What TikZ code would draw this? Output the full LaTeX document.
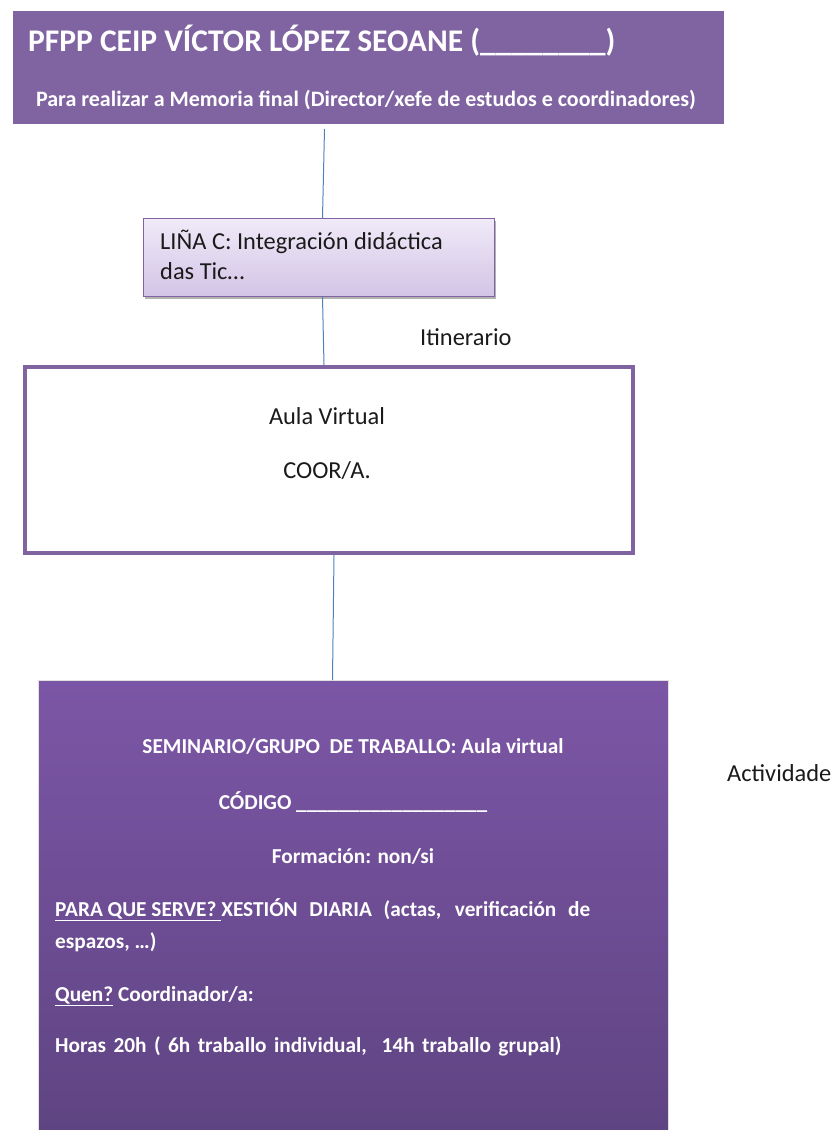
\documentclass[tikz,border=0pt]{standalone}
\usepackage{fontspec}
\setmainfont{Carlito}
\usetikzlibrary{shadows,calc}
\definecolor{purp}{HTML}{8064A2}
\definecolor{linblue}{HTML}{4F81BD}
\definecolor{lavtop}{HTML}{F0EAF8}
\definecolor{lavbot}{HTML}{D2C4E6}
\definecolor{bottop}{HTML}{7C56A6}
\definecolor{botbot}{HTML}{5D4380}
\definecolor{txt}{HTML}{1A1A1A}
\tikzset{
  conn/.style={draw=linblue, line width=1pt},
  topbox/.style={draw=white, line width=5pt, fill=purp, inner sep=0pt, anchor=north west,
    drop shadow={shadow xshift=1.5pt, shadow yshift=-2pt, fill=black, opacity=0.25}},
  linabox/.style={draw=purp, line width=1pt, top color=lavtop, bottom color=lavbot, inner sep=0pt, anchor=north west,
    drop shadow={shadow xshift=1.5pt, shadow yshift=-2pt, fill=black, opacity=0.3}},
  aulabox/.style={draw=purp, line width=4pt, fill=white, inner sep=0pt, anchor=north west,
    drop shadow={shadow xshift=1pt, shadow yshift=-1.5pt, fill=black, opacity=0.2}},
  botbox/.style={draw=black!12, line width=1pt, top color=bottop, bottom color=botbot, inner sep=0pt, anchor=north west},
  wt/.style={text=white, inner sep=0pt, font=\fontsize{21.3}{25}\selectfont\bfseries},
  dk/.style={text=txt, inner sep=0pt, font=\fontsize{24.4}{29}\selectfont},
}
\begin{document}
\begin{tikzpicture}[x=1pt,y=-1pt]
\useasboundingbox (0,0) rectangle (836,1130);
\clip (0,0) rectangle (836,1130);
% top box
\node[topbox, minimum width=716, minimum height=118] (top) at (8,6) {};
\node[wt, anchor=base west, font=\fontsize{31.5}{36}\selectfont\bfseries] (title) at (28,51) {PFPP CEIP VÍCTOR LÓPEZ SEOANE (\_\_\_\_\_\_\_\_)};
\node[wt, anchor=base, font=\fontsize{22}{26}\selectfont\bfseries] (sub) at (366,106) {Para realizar a Memoria final (Director/xefe de estudos e coordinadores)};
% lina box
\node[linabox, minimum width=351, minimum height=78] (lina) at (143,218) {};
\node[dk, anchor=base west] (l1) at (160,249) {LIÑA C: Integración didáctica};
\node[dk, anchor=base west] (l2) at (160,279) {das Tic…};
% itinerario
\node[dk, anchor=base west] (itin) at (420,345) {Itinerario};
% aula box
\node[aulabox, minimum width=608, minimum height=186] (aula) at (23,365) {};
\node[dk, anchor=base] (a1) at (327,424) {Aula Virtual};
\node[dk, anchor=base] (a2) at (327,478) {COOR/A.};
% bottom box
\node[botbox, minimum width=630, minimum height=480] (bot) at (38,680) {};
\node[wt, anchor=base] (b1) at (353,753) {SEMINARIO/GRUPO\ \ DE TRABALLO: Aula virtual};
\node[wt, anchor=base] (b2) at (353,809) {CÓDIGO \_\_\_\_\_\_\_\_\_\_\_\_\_\_\_\_\_\_};
\node[wt, anchor=base] (b3) at (353,863) {Formación: non/si};
\node[wt, anchor=base west] (b4) at (55,916) {\makebox[535pt][s]{\underline{PARA QUE SERVE? }XESTIÓN DIARIA (actas, verificación de}};
\node[wt, anchor=base west] (b5) at (55,948) {espazos, …)};
\node[wt, anchor=base west] (b6) at (55,1001) {\underline{Quen?} Coordinador/a:};
\node[wt, anchor=base west] (b7) at (55,1052) {\makebox[506pt][s]{Horas 20h ( 6h traballo individual,\ \ 14h\ traballo\ grupal)}};
% actividade
\node[dk, anchor=base west] (act) at (727,781) {Actividade};
% connectors
\draw[conn] ([xshift=-44pt]top.south) -- ([xshift=3.5pt]lina.north);
\draw[conn] ([xshift=3.5pt]lina.south) -- ([xshift=-5pt]aula.north);
\draw[conn] ([xshift=5pt]aula.south) -- ([xshift=-21pt]bot.north);
\end{tikzpicture}
\end{document}
